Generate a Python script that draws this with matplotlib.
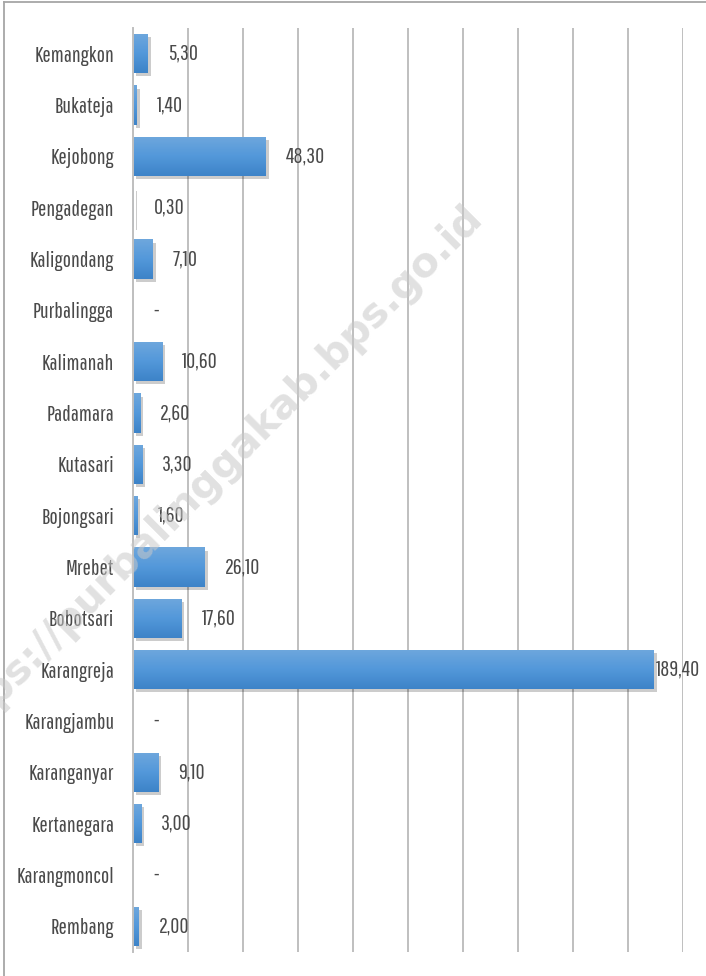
import numpy as np
import matplotlib
matplotlib.use("Agg")
import matplotlib.pyplot as plt
import matplotlib.patheffects as pe
from matplotlib.lines import Line2D
from matplotlib import font_manager as fm

categories = ["Kemangkon", "Bukateja", "Kejobong", "Pengadegan", "Kaligondang",
              "Purbalingga", "Kalimanah", "Padamara", "Kutasari", "Bojongsari",
              "Mrebet", "Bobotsari", "Karangreja", "Karangjambu", "Karanganyar",
              "Kertanegara", "Karangmoncol", "Rembang"]
values = [5.3, 1.4, 48.3, 0.3, 7.1, 0.0, 10.6, 2.6, 3.3, 1.6,
          26.1, 17.6, 189.4, 0.0, 9.1, 3.0, 0.0, 2.0]
x_ticks = [0, 20, 40, 60, 80, 100, 120, 140, 160, 180, 200]

available = {f.name for f in fm.fontManager.ttflist}
prefs = ["Pathway Gothic One", "Roboto Condensed", "Archivo Narrow",
         "PT Sans Narrow", "Liberation Sans Narrow"]
chosen = [p for p in prefs if p in available][:1]
FONT = chosen + ["DejaVu Sans"]
plt.rcParams['font.family'] = FONT

W, H = 706, 976
fig = plt.figure(figsize=(W / 100, H / 100), dpi=100)
ax = fig.add_axes([133 / W, 1 - 952 / H, 550 / W, 924 / H])

y = np.arange(len(categories))
bars = ax.barh(y, values, height=0.76, color="#5597d6", zorder=3,
               path_effects=[pe.SimplePatchShadow(offset=(2.2, -2.2), shadow_rgbFace="#000000", alpha=0.2),
                             pe.Normal()])

# vertical gradient inside each bar
grad = np.linspace(0, 1, 64).reshape(-1, 1)
cmap = matplotlib.colors.LinearSegmentedColormap.from_list("g", ["#6ea7dd", "#5398da", "#3d83c8"])
for b in bars:
    if b.get_width() <= 0:
        b.set_visible(False)
        continue
    x0, y0 = b.get_x(), b.get_y()
    w, h = b.get_width(), b.get_height()
    im = ax.imshow(grad, cmap=cmap, aspect="auto", extent=[x0, x0 + w, y0 + h, y0],
                   zorder=4, interpolation="bilinear")
    im.set_clip_path(b)

ax.set_xlim(0, 200)
ax.set_ylim(len(categories) - 0.5, -0.5)
ax.set_xticks(x_ticks)
ax.xaxis.grid(True, color="#bfbfbf", linewidth=1.4, zorder=0)
ax.set_axisbelow(True)
ax.tick_params(axis="x", length=0, labelbottom=False)
ax.tick_params(axis="y", length=0, pad=13.5, labelsize=15.8, labelcolor="#4a4a4a")
ax.set_yticks(y)
ax.set_yticklabels(categories)
for s in ["top", "right", "bottom"]:
    ax.spines[s].set_visible(False)
ax.spines["left"].set_color("#bfbfbf")
ax.spines["left"].set_linewidth(1.4)
ax.spines["left"].set_zorder(5)

for yi, v in zip(y, values):
    txt = "-" if v == 0 else f"{v:.2f}".replace(".", ",")
    off = 1.5 if v > 170 else 14.5
    ax.annotate(txt, xy=(v, yi), xytext=(off, 0), textcoords="offset points",
                ha="left", va="center", fontsize=15.8, color="#4a4a4a", zorder=6,
                annotation_clip=False)

# outer chart frame
fig.add_artist(Line2D([4 / W, 4 / W], [0, 1 - 2 / H], color="#a6a6a6", lw=1.3,
                      transform=fig.transFigure))
fig.add_artist(Line2D([4 / W, 1], [1 - 2 / H, 1 - 2 / H], color="#a6a6a6", lw=1.3,
                      transform=fig.transFigure))

# watermark
fig.text(209 / W, 1 - 478 / H, "https://purbalinggakab.bps.go.id", rotation=45,
         ha="center", va="center", fontsize=29.3, fontweight="bold",
         color="#c8c8c8", alpha=0.55, family=["DejaVu Sans"], zorder=10)

fig.savefig("out.png", dpi=100)
